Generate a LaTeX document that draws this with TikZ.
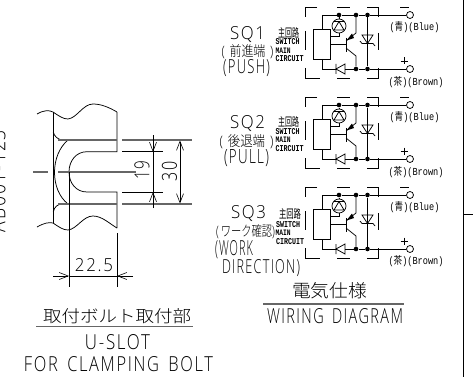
\documentclass[tikz,border=0pt]{standalone}
\usepackage{fontspec}
\usepackage{graphicx}
\setmainfont{Liberation Mono}
\newfontfamily\cad[LetterSpace=10,WordSpace=1.6]{Open Sans Light}
\newfontfamily\cjk{Noto Sans CJK JP Light}
\newfontfamily\cjkb{Noto Sans CJK JP}
\usetikzlibrary{arrows.meta}
\tikzset{
  wire/.style={black,line width=0.75pt},
  grayline/.style={black!60,line width=1.2pt},
  thin dim/.style={black,line width=0.7pt},
  opentip/.style={-{Straight Barb[length=9pt,width=7pt,line width=0.6pt]}},
  lbl/.style={inner sep=0pt,outer sep=0pt,text=black},
  junction/.style={circle,fill=black,inner sep=0pt,minimum size=4.6pt},
  terminal/.style={circle,draw=black,fill=white,line width=0.75pt,inner sep=0pt,minimum size=7pt},
  relaybox/.style={draw=black,line width=0.75pt,inner sep=0pt,minimum width=17pt,minimum height=30pt},
  ledring/.style={circle,draw=black,line width=0.75pt,inner sep=0pt,minimum size=14pt},
  pt/.style={inner sep=0pt,minimum size=0pt,outer sep=0pt},
  pics/swcircuit/.style={code={
    % dashed enclosure
    \draw[wire] (317,7)--(305,7)--(305,17) (305,31)--(305,50) (305,68)--(305,78)--(320,78);
    \draw[wire] (337,7)--(350,7) (337,78)--(350,78);
    \draw[wire] (367,7)--(378,7)--(378,17) (378,33)--(378,50) (378,68)--(378,78)--(367,78);
    % parts
    \node[relaybox] (-relay) at (321.5,44) {};
    \node[ledring] (-led) at (339,26) {};
    \node[terminal] (-tp) at (410,15) {};
    \node[terminal] (-tn) at (410,69) {};
    \node[pt] (-tl) at (322,15) {};
    \node[pt] (-bl) at (322,69) {};
    \node[junction] (-j1) at (339,15) {};
    \node[junction] (-j2) at (356,15) {};
    \node[junction] (-j3) at (367.5,15) {};
    \node[junction] (-j4) at (356,69) {};
    \node[junction] (-j5) at (367.5,69) {};
    \draw[wire] (-tl.center)--(-j1)--(-j2)--(-j3)--(-tp);
    \draw[wire] (-bl.center)--(336,69) (345,69)--(-j4)--(-j5)--(-tn);
    \draw[wire] (-tl.center)--(322,29) (322,59)--(-bl.center);
    \draw[wire] (-j1)--(-led);
    % LED symbol
    \draw[wire] (334,30)--(344,30)--(339,21.5)--cycle (334,21.5)--(344,21.5);
    \draw[wire] (-led.south)--(339,36)--(330,36);
    % transistor
    \draw[wire] (330,44.5)--(346,44.5);
    \draw[black,line width=1pt] (346,38)--(346,52);
    \draw[wire] (356,15)--(356,33)--(346,41);
    \fill[black] (346.5,40.5)--(352,33.5)--(354,38)--cycle;
    \draw[wire] (346,48)--(356,56)--(-j4);
    % zener
    \draw[wire] (-j3)--(-j5);
    \draw[wire] (362,35)--(373,35)--(367.5,43.5)--cycle;
    \draw[wire] (360,41)--(362,43.5)--(373,43.5)--(375,46);
    % bottom diode
    \draw[wire] (345,64)--(345,74)--(336,69)--cycle (336,64)--(336,74);
    % polarity
    \draw[wire] (400,7)--(409,7);
    \draw[wire] (400.5,61)--(407.5,61) (404,57.5)--(404,64.5);
  }}
}
% \fit{name}{centre x}{centre y}{width}{height}{text}
\newcommand{\fit}[6]{\node[lbl] (#1) at (#2,#3) {\resizebox{#4pt}{#5pt}{#6}};}
\newcommand{\fitv}[6]{\node[lbl,rotate=90] (#1) at (#2,#3) {\resizebox{#4pt}{#5pt}{#6}};}
\begin{document}
\begin{tikzpicture}[x=1pt,y=-1pt]
\useasboundingbox (0,0) rectangle (473,377);
\clip (0,0) rectangle (473,377);

% frame at right
\node[pt] (fa) at (463.5,0) {};
\node[pt] (fb) at (463.5,377) {};
\node[pt] (fc) at (463.5,214) {};
\node[pt] (fd) at (473,214) {};
\draw[black,line width=1.3pt] (fa.center)--(fb.center);
\draw[wire] (fc.center)--(fd.center);

% clipped drawing number
\node[lbl,rotate=90] (dwgno) at (-2,181) {\resizebox{102pt}{15pt}{\cad AB001-123}};

% --- U-slot part outline
\draw[wire] (37,114) .. controls (44,110) and (49,110) .. (53,112) .. controls (59,116) and (63,119) .. (68,119) .. controls (77,118) and (83,104) .. (93,104) .. controls (102,104) and (110,108) .. (117,112);
\draw[wire] (37,227) .. controls (44,223) and (49,222) .. (53,223) .. controls (59,227) and (63,230) .. (68,230) .. controls (77,229) and (83,216) .. (93,216) .. controls (102,216) and (110,224) .. (117,228);
\draw[wire] (53.3,112)--(53.3,223);
\draw[wire] (117,112)--(117,151.7)--(87,151.7) .. controls (76,151.7) and (69,161) .. (69,172) .. controls (69,183) and (76,192) .. (87,192)--(117,192)--(117,228);
\draw[wire] (53.3,132) .. controls (54,136) and (58,140) .. (63,140);
\draw[wire] (53.3,212) .. controls (54,207) and (58,204) .. (62,204);
\draw[wire] (68,140) .. controls (50,155) and (50,190) .. (68,204);

% grey lines
\draw[grayline] (58,140)--(117,140) (122,140)--(192,140);
\draw[grayline] (58,204)--(117,204) (122,204)--(192,204);
\draw[grayline] (33,172)--(48,172) (58,172)--(136,172);

% extension lines
\draw[wire] (122,151.7)--(163,151.7) (122,192)--(163,192);
\draw[wire] (69,172)--(69,287) (117,233)--(117,287);

% dimension lines
\draw[thin dim,opentip] (153,135)--(153,152);
\draw[thin dim,opentip] (153,208)--(153,192);
\draw[thin dim] (153,152)--(153,192);
\draw[thin dim,opentip] (180,172)--(180,140.5);
\draw[thin dim,opentip] (180,172)--(180,203.5);
\draw[thin dim] (69,276)--(117,276);
\draw[thin dim,opentip] (53,276)--(69,276);
\draw[thin dim,opentip] (133,276)--(117,276);

\fitv{d19}{142}{170}{19}{15}{\cad 19}
\fitv{d30}{169.5}{171}{20}{15}{\cad 30}
\fit{d225}{94}{265}{38}{13}{\cad 22.5}

% --- captions left
\fit{capa}{117}{316}{148}{14}{\cjk 取付ボルト取付部}
\draw[grayline] (36,326.5)--(193,326.5);
\fit{capb}{117.5}{342}{65}{15}{\cad U-SLOT}
\fit{capc}{118.5}{364}{189}{15}{\cad FOR CLAMPING BOLT}

% --- circuits
\pic (ca) at (0,0) {swcircuit};
\pic (cb) at (0,90) {swcircuit};
\pic (cc) at (0,180) {swcircuit};

% --- SQ1 labels
\fit{sa}{247.5}{34.5}{35}{13}{\cad SQ1}
\fit{sb}{247.5}{51.5}{52}{12}{\cad(\hspace{0.4em}\cjk 前進端\cad\hspace{0.4em})}
\fit{sc}{246.5}{68}{47}{14}{\cad(PUSH)}
\fit{sd}{288.5}{32.5}{21}{10}{\cjkb 主回路}
\fit{se}{287.5}{42}{24}{6}{\bfseries SWITCH}
\fit{sf}{283}{50.5}{15}{5.5}{\bfseries MAIN}
\fit{sg}{289.5}{59}{28}{6}{\bfseries CIRCUIT}
\fit{sh}{414.5}{27.5}{50}{9}{(\cjkb 青\rmfamily)(Blue)}
\fit{si}{416}{82}{55}{9}{(\cjkb 茶\rmfamily)(Brown)}

% --- SQ2 labels
\fit{ta}{247.5}{124}{35}{13}{\cad SQ2}
\fit{tb}{246.5}{141.5}{54}{12}{\cad(\hspace{0.4em}\cjk 後退端\cad\hspace{0.4em})}
\fit{tc}{246.5}{158.5}{45}{14}{\cad(PULL)}
\fit{td}{288.5}{122}{21}{10}{\cjkb 主回路}
\fit{te}{287.5}{131.5}{24}{6}{\bfseries SWITCH}
\fit{tf}{283}{140}{15}{5.5}{\bfseries MAIN}
\fit{tg}{289.5}{149}{28}{6}{\bfseries CIRCUIT}
\fit{th}{414.5}{117.5}{50}{9}{(\cjkb 青\rmfamily)(Blue)}
\fit{ti}{416}{172}{55}{9}{(\cjkb 茶\rmfamily)(Brown)}

% --- SQ3 labels
\fit{ua}{248.5}{213.5}{35}{13}{\cad SQ3}
\fit{ub}{245.5}{231.5}{59}{12}{\cad(\hspace{0.2em}\cjk ワーク確認\cad)}
\fit{uc}{234}{250}{38}{15}{\cad(WORK}
\fit{ud}{261}{268.5}{78}{14}{\cad DIRECTION)}
\fit{ue}{290}{213.5}{22}{10}{\cjkb 主回路}
\fit{uf}{288}{225}{24}{6}{\bfseries SWITCH}
\fit{ug}{283}{232.5}{15}{5.5}{\bfseries MAIN}
\fit{uh}{290}{241.5}{28}{6}{\bfseries CIRCUIT}
\fit{ui}{414.5}{207}{50}{9}{(\cjkb 青\rmfamily)(Blue)}
\fit{uj}{416}{261.5}{55}{9}{(\cjkb 茶\rmfamily)(Brown)}

% --- wiring caption
\fit{wa}{329.5}{290.5}{75}{15}{\cjk 電気仕様}
\draw[grayline] (263,304)--(404,304);
\fit{wb}{335}{316}{136}{15}{\cad WIRING DIAGRAM}
\end{tikzpicture}
\end{document}
